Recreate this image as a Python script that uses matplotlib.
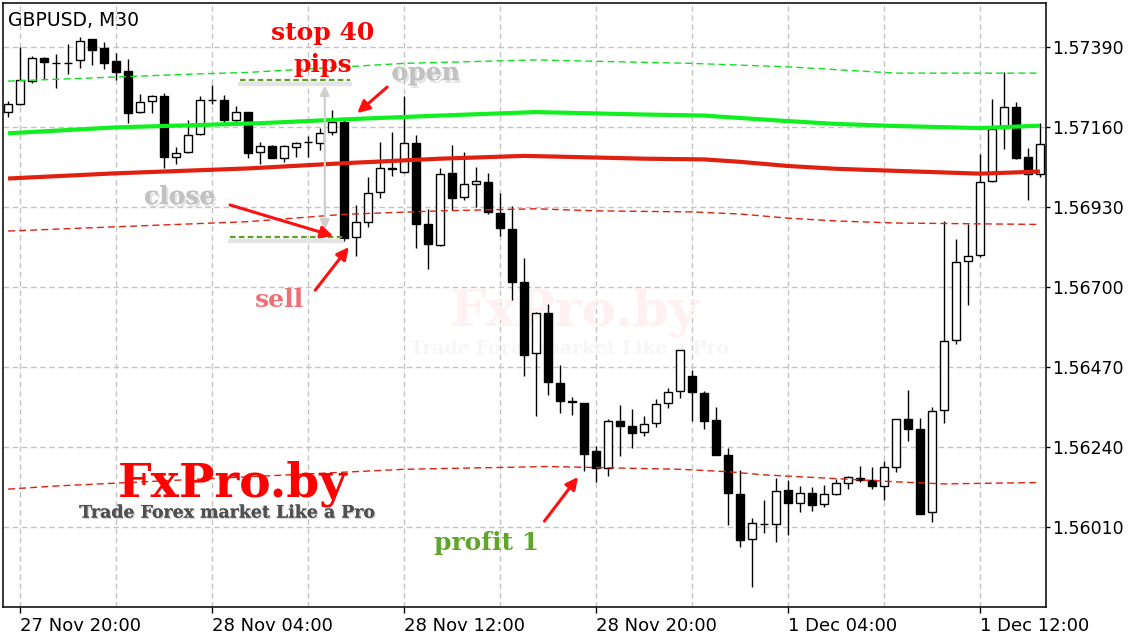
import matplotlib
matplotlib.use('Agg')
import matplotlib.pyplot as plt
import matplotlib.patheffects as pe
from matplotlib.patches import Rectangle, FancyArrowPatch
import pandas as pd

# GBPUSD M30, 27 Nov 2014 19:30 .. 1 Dec 2014 14:30 (weekend gap)
symbol = 'GBPUSD, M30'
session1 = pd.date_range('2014-11-27 19:30', '2014-11-28 23:30', freq='30min')
session2 = pd.date_range('2014-12-01 00:00', '2014-12-01 14:30', freq='30min')
bar_times = session1.append(session2)

opens = [1.57201, 1.57224, 1.57292, 1.57358, 1.57342, 1.57343, 1.57351, 1.57412, 1.57385, 1.57349,
         1.57320, 1.57201, 1.57233, 1.57248, 1.57073, 1.57086, 1.57138, 1.57236, 1.57237, 1.57179,
         1.57202, 1.57086, 1.57104, 1.57069, 1.57103, 1.57115, 1.57114, 1.57144, 1.57174, 1.56842,
         1.56887, 1.56971, 1.57041, 1.57029, 1.57113, 1.56879, 1.56819, 1.57026, 1.56957, 1.56995,
         1.57000, 1.56911, 1.56866, 1.56713, 1.56508, 1.56624, 1.56422, 1.56370, 1.56366, 1.56227,
         1.56180, 1.56314, 1.56299, 1.56281, 1.56307, 1.56365, 1.56399, 1.56442, 1.56394, 1.56317,
         1.56215, 1.56104, 1.55974, 1.56019, 1.56017, 1.56115, 1.56077, 1.56106, 1.56074, 1.56105,
         1.56135, 1.56150, 1.56143, 1.56128, 1.56183, 1.56319, 1.56290, 1.56051, 1.56345, 1.56546,
         1.56773, 1.56790, 1.57003, 1.57155, 1.57216, 1.57072, 1.57023]
highs = [1.57234, 1.57390, 1.57363, 1.57360, 1.57369, 1.57398, 1.57419, 1.57413, 1.57403, 1.57373,
         1.57355, 1.57254, 1.57251, 1.57258, 1.57102, 1.57179, 1.57249, 1.57280, 1.57251, 1.57219,
         1.57203, 1.57116, 1.57106, 1.57107, 1.57117, 1.57134, 1.57157, 1.57207, 1.57182, 1.56935,
         1.57015, 1.57116, 1.57145, 1.57249, 1.57136, 1.56923, 1.57040, 1.57107, 1.57087, 1.57045,
         1.57027, 1.56969, 1.56931, 1.56782, 1.56627, 1.56651, 1.56475, 1.56384, 1.56367, 1.56242,
         1.56320, 1.56360, 1.56348, 1.56329, 1.56377, 1.56409, 1.56518, 1.56461, 1.56400, 1.56354,
         1.56236, 1.56173, 1.56034, 1.56087, 1.56150, 1.56144, 1.56127, 1.56124, 1.56129, 1.56148,
         1.56156, 1.56185, 1.56182, 1.56199, 1.56320, 1.56403, 1.56322, 1.56353, 1.56889, 1.56837,
         1.56880, 1.57081, 1.57240, 1.57316, 1.57230, 1.57098, 1.57170]
lows = [1.57189, 1.57222, 1.57287, 1.57296, 1.57270, 1.57311, 1.57330, 1.57337, 1.57325, 1.57294,
        1.57172, 1.57200, 1.57199, 1.57040, 1.57054, 1.57085, 1.57137, 1.57225, 1.57173, 1.57174,
        1.57071, 1.57054, 1.57069, 1.57059, 1.57074, 1.57074, 1.57093, 1.57136, 1.56831, 1.56789,
        1.56873, 1.56956, 1.57019, 1.57028, 1.56812, 1.56751, 1.56818, 1.56920, 1.56948, 1.56930,
        1.56908, 1.56847, 1.56663, 1.56444, 1.56329, 1.56389, 1.56336, 1.56331, 1.56170, 1.56139,
        1.56157, 1.56214, 1.56235, 1.56272, 1.56298, 1.56351, 1.56381, 1.56315, 1.56291, 1.56216,
        1.56015, 1.55953, 1.55838, 1.55991, 1.55965, 1.55987, 1.56051, 1.56056, 1.56066, 1.56101,
        1.56119, 1.56139, 1.56119, 1.56087, 1.56168, 1.56257, 1.56046, 1.56024, 1.56307, 1.56536,
        1.56648, 1.56786, 1.57002, 1.57097, 1.57068, 1.56950, 1.57016]
closes = [1.57225, 1.57294, 1.57357, 1.57345, 1.57343, 1.57342, 1.57406, 1.57381, 1.57344, 1.57318,
          1.57200, 1.57230, 1.57247, 1.57072, 1.57084, 1.57135, 1.57237, 1.57237, 1.57178, 1.57201,
          1.57085, 1.57104, 1.57071, 1.57104, 1.57112, 1.57116, 1.57141, 1.57173, 1.56841, 1.56885,
          1.56969, 1.57040, 1.57038, 1.57113, 1.56881, 1.56822, 1.57025, 1.56956, 1.56994, 1.57003,
          1.56914, 1.56870, 1.56714, 1.56504, 1.56624, 1.56427, 1.56372, 1.56369, 1.56220, 1.56180,
          1.56313, 1.56300, 1.56278, 1.56304, 1.56362, 1.56396, 1.56517, 1.56396, 1.56315, 1.56217,
          1.56108, 1.55973, 1.56020, 1.56018, 1.56112, 1.56077, 1.56106, 1.56073, 1.56103, 1.56135,
          1.56153, 1.56144, 1.56128, 1.56181, 1.56319, 1.56292, 1.56047, 1.56342, 1.56544, 1.56770,
          1.56787, 1.57000, 1.57153, 1.57216, 1.57071, 1.57023, 1.57109]

# indicator lines, read at a few bars
ma_green_bars = [0, 9, 21, 28, 36, 44, 53, 58, 61, 65, 69, 74, 81, 86]
ma_green = [1.57141, 1.57158, 1.57170, 1.57181, 1.57192, 1.57202, 1.57195, 1.57192,
            1.57185, 1.57176, 1.57168, 1.57162, 1.57156, 1.57163]
ma_red_bars = [0, 9, 20, 28, 36, 43, 47, 53, 58, 61, 65, 69, 74, 81, 86]
ma_red = [1.57011, 1.57026, 1.57040, 1.57055, 1.57068, 1.57076, 1.57073, 1.57068,
          1.57066, 1.57059, 1.57047, 1.57039, 1.57033, 1.57025, 1.57031]
env_up_bars = [0, 16, 20, 28, 33, 44, 49, 57, 65, 74, 86]
env_up = [1.57291, 1.57312, 1.57316, 1.57332, 1.57342, 1.57352, 1.57348, 1.57342,
          1.57332, 1.57314, 1.57314]
env_dn_bars = [0, 20, 28, 36, 44, 49, 57, 61, 65, 69, 74, 86]
env_dn = [1.56860, 1.56887, 1.56908, 1.56918, 1.56924, 1.56918, 1.56915, 1.56909,
          1.56897, 1.56889, 1.56883, 1.56879]
env_low_bars = [0, 4, 27, 33, 45, 56, 60, 63, 68, 74, 78, 86]
env_low = [1.56118, 1.56127, 1.56165, 1.56175, 1.56183, 1.56175, 1.56168, 1.56159,
           1.56150, 1.56139, 1.56133, 1.56137]

price_ticks = [1.56010, 1.56240, 1.56470, 1.56700, 1.56930, 1.57160, 1.57390]

# trade levels
stop_level = 1.57294
close_level = 1.56844

W, H = 1136, 640
fig = plt.figure(figsize=(W / 100, H / 100), dpi=100)
ax = fig.add_axes([3 / W, 1 - 607 / H, 1043 / W, 604 / H])
ax.set_xlim(-0.42, 86.5)
ax.set_ylim(1.557791, 1.575156)

grid_kw = dict(color='#c4c4c4', lw=1.0, ls=(0, (4, 2.6)), zorder=0)
for i, t in enumerate(bar_times):
    if t.minute == 0 and t.hour % 4 == 0:
        ax.axvline(i, **grid_kw)
for p in price_ticks:
    ax.axhline(p, **grid_kw)

# watermark in the middle
ax.text(47.2, 1.56588, 'FxPro.by', family='DejaVu Serif', weight='bold', fontsize=37,
        color='#fff1f1', ha='center', va='baseline', zorder=0.5)
ax.text(46.75, 1.56522, 'Trade Forex market Like a Pro', family='DejaVu Serif', weight='bold',
        fontsize=13.5, color='#f6f6f6', ha='center', va='center', zorder=0.5)

# candles
for i in range(len(opens)):
    o, h, l, c = opens[i], highs[i], lows[i], closes[i]
    ax.plot([i, i], [l, h], color='black', lw=1.0, zorder=2, solid_capstyle='butt')
    lo, hi = min(o, c), max(o, c)
    face = 'white' if c >= o else 'black'
    ax.add_patch(Rectangle((i - 0.37, lo), 0.74, hi - lo, facecolor=face,
                           edgecolor='black', lw=1.0, zorder=3))

# moving averages and envelopes
ax.plot(env_up_bars, env_up, color='#10e020', lw=1.0, ls=(0, (5, 3)), zorder=4)
ax.plot(env_dn_bars, env_dn, color='#e02010', lw=1.0, ls=(0, (5, 3)), zorder=4)
ax.plot(env_low_bars, env_low, color='#e02010', lw=1.0, ls=(0, (5, 3)), zorder=4)
ax.plot(ma_green_bars, ma_green, color='#10f020', lw=3.0, zorder=4, solid_capstyle='butt')
ax.plot(ma_red_bars, ma_red, color='#e02010', lw=3.0, zorder=4, solid_capstyle='butt')

# trade levels with a soft shadow
ax.plot([19.3, 28.5], [stop_level - 0.00012, stop_level - 0.00012], color='#e4e4e4', lw=3, zorder=4.5)
ax.plot([19.3, 28.5], [stop_level, stop_level], color='#5f9f2a', lw=1.6, ls=(0, (2.5, 1.5)), zorder=5)
ax.plot([18.5, 27.8], [close_level - 0.00012, close_level - 0.00012], color='#e4e4e4', lw=3, zorder=4.5)
ax.plot([18.5, 27.8], [close_level, close_level], color='#5f9f2a', lw=1.6, ls=(0, (2.5, 1.5)), zorder=5)

ax.add_patch(FancyArrowPatch((26.4, 1.57286), (26.4, 1.56857), arrowstyle='<|-|>',
                             mutation_scale=14, color='#cfcfcf', lw=1.6, zorder=5))

red_arrows = [((31.6, 1.57274), (29.1, 1.57199)),
              ((18.5, 1.56935), (27.1, 1.56846)),
              ((25.6, 1.56690), (28.4, 1.56814)),
              ((44.7, 1.56026), (47.5, 1.56153))]
for tail, tip in red_arrows:
    ax.add_patch(FancyArrowPatch(tail, tip, arrowstyle='-|>', mutation_scale=18,
                                 color='#ff1010', lw=2.2, zorder=6, shrinkA=0, shrinkB=0))

label_kw = dict(family='DejaVu Serif', weight='bold', fontsize=18, ha='center', va='center', zorder=7)
soft = [pe.withSimplePatchShadow(offset=(1.5, -2), shadow_rgbFace='#b0b0b0', alpha=0.35), pe.Normal()]
ax.text(26.25, 1.57429, 'stop 40', color='#ff0000', **label_kw)
ax.text(26.25, 1.57337, 'pips', color='#ff0000', **label_kw)
ax.text(34.8, 1.57314, 'open', color='#c2c2c2', path_effects=soft, **label_kw)
ax.text(14.3, 1.56958, 'close', color='#c2c2c2', path_effects=soft, **label_kw)
ax.text(22.6, 1.56662, 'sell', color='#ef6f76', **label_kw)
ax.text(39.9, 1.55963, 'profit 1', color='#5fa52a', **label_kw)

ax.text(18.7, 1.56098, 'FxPro.by', family='DejaVu Serif', weight='bold', fontsize=34,
        color='#ff0000', ha='center', va='baseline', zorder=7)
ax.text(18.3, 1.56049, 'Trade Forex market Like a Pro', family='DejaVu Serif', weight='bold',
        fontsize=12.5, color='#505050', ha='center', va='center', zorder=7,
        path_effects=[pe.withSimplePatchShadow(offset=(1, -1), shadow_rgbFace='#999999', alpha=0.4), pe.Normal()])

ax.text(0.005, 0.986, symbol, transform=ax.transAxes, fontsize=13.5, color='black',
        ha='left', va='top', zorder=8)

# axes: prices on the right, dates below
ax.yaxis.tick_right()
ax.set_yticks(price_ticks)
ax.set_yticklabels([f'{p:.5f}' for p in price_ticks])
label_bars = [i for i, t in enumerate(bar_times) if t.minute == 0 and t.hour % 8 == 4]
ax.set_xticks(label_bars)
ax.set_xticklabels([f'{bar_times[i].day} {bar_times[i]:%b %H:%M}' for i in label_bars], ha='left')
ax.tick_params(axis='y', direction='out', length=3, width=1, pad=1.5, labelsize=12.5)
ax.tick_params(axis='x', direction='out', length=4, width=1, pad=3, labelsize=13)
for s in ax.spines.values():
    s.set_linewidth(1.1)

fig.savefig('out.png', dpi=100, facecolor='white')
